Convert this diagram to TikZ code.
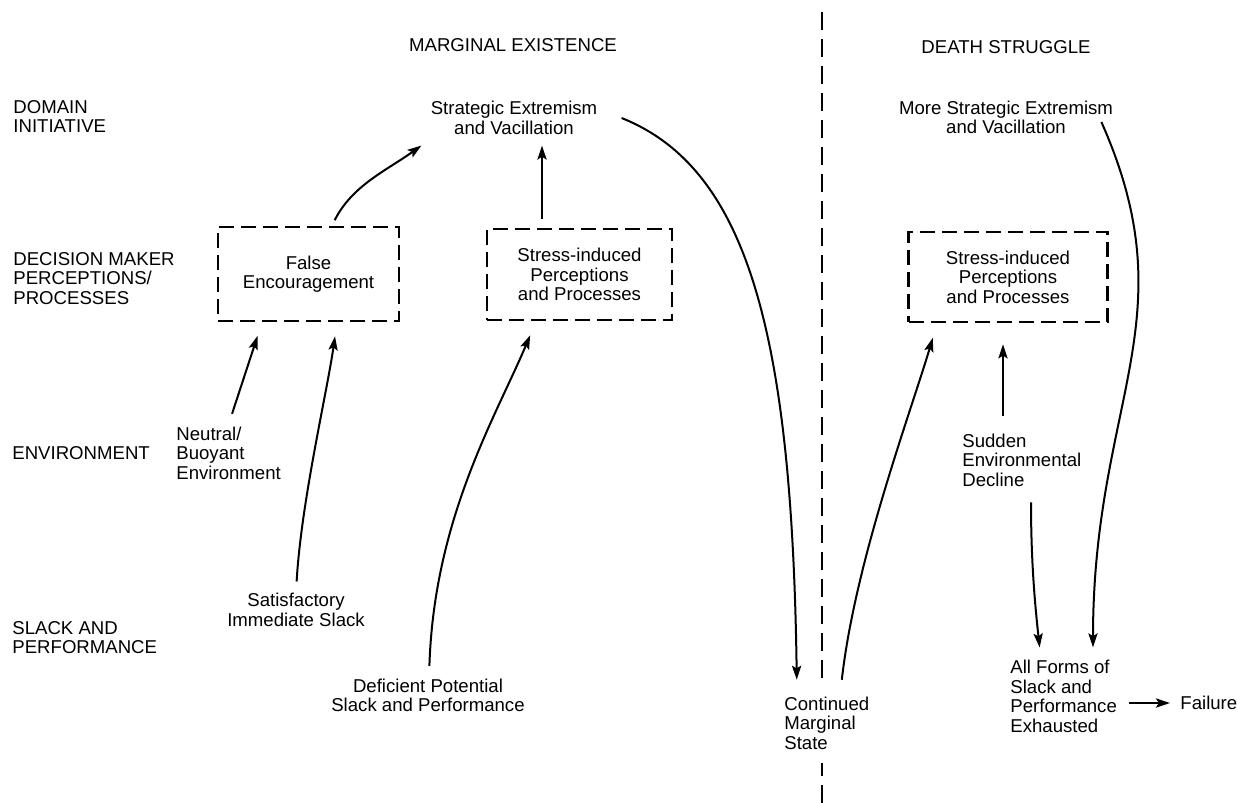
\documentclass[tikz,border=0pt]{standalone}
\usepackage{fontspec}
\setmainfont{Liberation Sans}
\usetikzlibrary{arrows.meta}
\begin{document}
\begin{tikzpicture}[x=0.5pt,y=-0.5pt,
  every node/.style={font=\fontsize{9.3}{9.8}\selectfont, inner sep=0pt},
  txt/.style={align=center},
  rowlbl/.style={align=left, anchor=west},
  dbox/.style={draw, line width=1.4pt, dash pattern=on 7.5pt off 3.5pt, align=center},
  arr/.style={line width=1pt, -{Stealth[length=7pt,width=4.6pt,inset=1.4pt]}},
  divider/.style={line width=1.2pt, dash pattern=on 9pt off 4.5pt}]
\useasboundingbox (0,0) rectangle (1237,803);
% row labels
\node[rowlbl] (dom) at (13,116.5) {DOMAIN\\INITIATIVE};
\node[rowlbl] (dmp) at (13,278.5) {DECISION MAKER\\PERCEPTIONS/\\PROCESSES};
\node[rowlbl] (env) at (12,453) {ENVIRONMENT};
\node[rowlbl] (slp) at (12,637.5) {SLACK AND\\PERFORMANCE};
% phase titles
\node[txt] (hme) at (513,45) {MARGINAL EXISTENCE};
\node[txt] (hds) at (1006,47) {DEATH STRUGGLE};
% marginal existence
\node[txt] (se1) at (514,118) {Strategic Extremism\\and Vacillation};
\node[dbox, minimum width=90.5pt, minimum height=47pt] (fe) at (308.5,274) {False\\Encouragement};
\node[dbox, minimum width=92.5pt, minimum height=45.5pt] (sp1) at (579.5,274.5) {Stress-induced\\Perceptions\\and Processes};
\node[rowlbl] (nbe) at (176,453) {Neutral/\\Buoyant\\Environment};
\node[txt] (sat) at (296,610) {Satisfactory\\Immediate Slack};
\node[txt] (dpsp) at (428,695.5) {Deficient Potential\\Slack and Performance};
\node[rowlbl] (cms) at (784,723) {Continued\\Marginal\\State};
% death struggle
\node[txt] (se2) at (1006,117.5) {More Strategic Extremism\\and Vacillation};
\node[dbox, minimum width=99.5pt, minimum height=45pt] (sp2) at (1008,277) {Stress-induced\\Perceptions\\and Processes};
\node[rowlbl] (sed) at (962,460) {Sudden\\Environmental\\Decline};
\node[rowlbl] (afs) at (1010,696.5) {All Forms of\\Slack and\\Performance\\Exhausted};
\node[rowlbl] (fail) at (1180,703) {Failure};
% divider
\coordinate (vtop) at (822,12);
\coordinate (vbot) at (822,803);
\draw[divider, shorten >=9pt] (vtop) -- (vtop |- cms.north);
\draw[divider, shorten >=6.75pt] (vbot) -- (vbot |- cms.south);
% arrows, left half
\draw[arr, shorten <=3pt] (332,0 |- fe.north) .. controls +(20,-40) and +(-35,25) .. ([xshift=-4.5pt,yshift=-5.25pt]se1.south west);
\draw[arr, shorten <=4.5pt, shorten >=5.25pt] (542,0 |- sp1.north) -- (542,0 |- se1.south);
\draw[arr, shorten <=6.5pt, shorten >=7pt] (228,0 |- nbe.north) -- (262,0 |- fe.south);
\draw[arr, shorten <=5.75pt, shorten >=7pt] (296,0 |- sat.north) .. controls +(5,-90) and +(-10,70) .. (337,0 |- fe.south);
\draw[arr, shorten <=6.25pt, shorten >=7.5pt] (429,0 |- dpsp.north) .. controls +(5,-160) and +(-40,95) .. (536,0 |- sp1.south);
\draw[arr, shorten >=8.25pt] ([xshift=12pt]se1.east) .. controls +(125,50) and +(-5,-366) .. (797,0 |- cms.north);
% arrows, right half
\draw[arr, shorten <=8.25pt, shorten >=7.5pt] (840,0 |- cms.north) .. controls +(15,-135) and +(-25,85) .. (937,0 |- sp2.south);
\draw[arr, shorten <=8.75pt, shorten >=10.5pt] (1003,0 |- sed.north) -- (1003,0 |- sp2.south);
\draw[arr, shorten <=7.75pt, shorten >=6.25pt] (1031,0 |- sed.south) .. controls +(0,75) and +(-6,-55) .. (1041,0 |- afs.north);
\draw[arr, shorten >=6.25pt] ([xshift=-6pt,yshift=-2.25pt]se2.east) .. controls +(88,198) and +(0,-260) .. (1093,0 |- afs.north);
\draw[arr, shorten <=6pt, shorten >=5pt] (afs.east |- fail.west) -- (fail.west);
\end{tikzpicture}
\end{document}
